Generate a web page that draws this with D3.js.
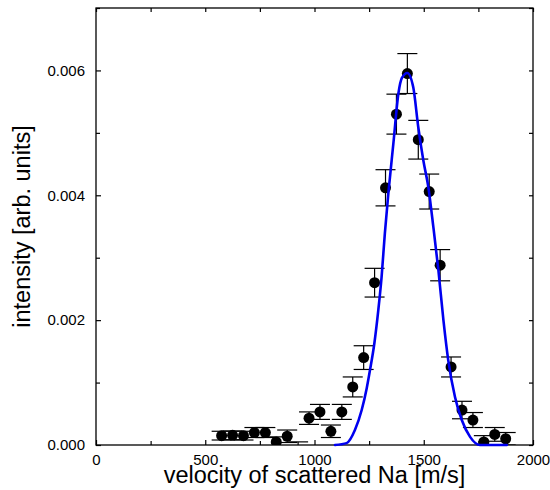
<!DOCTYPE html>
<html>
<head>
<meta charset="utf-8">
<script src="https://cdn.jsdelivr.net/npm/d3@7"></script>
<style>
  html, body { margin: 0; padding: 0; background: #fff; }
  svg { display: block; font-family: "Liberation Sans", Arial, Helvetica, sans-serif; }
</style>
</head>
<body>
<svg id="chart" width="550" height="490"></svg>
<script>
// Measured data: velocity [m/s], intensity [arb. units], error bar half-height
const velocity = [575, 625, 675, 725, 775, 825, 875, 925, 975, 1025, 1075, 1125, 1175, 1225, 1275,
                  1325, 1375, 1425, 1475, 1525, 1575, 1625, 1675, 1725, 1775, 1825, 1875];
const intensity = [0.00015, 0.000155, 0.00015, 0.0002, 0.0002, 0.00005, 0.00014, -0.00012, 0.00043, 0.00053,
                   0.00022, 0.00053, 0.00093, 0.0014, 0.0026, 0.00412, 0.0053, 0.00595, 0.00489, 0.00406,
                   0.00288, 0.00125, 0.00056, 0.0004, 0.00005, 0.00017, 0.0001];
const intensityErr = [0.00007, 0.00007, 0.00007, 0.00008, 0.00008, 0.00008, 0.0001, 0.00017, 0.0001, 0.00012,
                      0.0001, 0.00012, 0.00016, 0.00019, 0.00023, 0.00029, 0.00032, 0.00032, 0.00031, 0.00028,
                      0.00025, 0.00016, 0.00014, 0.00012, 0.0001, 0.00011, 0.0001];

// Fit curve
const fitVelocity = [1094, 1147, 1185, 1216, 1239, 1254, 1274, 1292, 1307, 1322, 1338, 1361, 1384, 1400, 1425,
                     1452, 1475, 1498, 1521, 1544, 1567, 1590, 1612, 1643, 1674, 1712, 1757, 1880];
const fitIntensity = [0, 0.00003, 0.00024, 0.00056, 0.00091, 0.0012, 0.00163, 0.00216, 0.00269, 0.00339, 0.00403,
                      0.00483, 0.00563, 0.00588, 0.00596, 0.00573, 0.00509, 0.00456, 0.00413, 0.00349, 0.0028,
                      0.002, 0.00136, 0.00077, 0.0004, 0.00013, 0, 0];

// Ticks
const xMajorTicks = [0, 500, 1000, 1500, 2000];
const xMinorTicks = [250, 750, 1250, 1750];
const yMajorTicks = [0, 0.002, 0.004, 0.006];
const yMinorTicks = [0.001, 0.003, 0.005, 0.007];

const xTitle = "velocity of scattered Na [m/s]";
const yTitle = "intensity [arb. units]";

const W = 550, H = 490;
const margin = { left: 96, top: 8, right: 17, bottom: 45 };
const iw = W - margin.left - margin.right;
const ih = H - margin.top - margin.bottom;

const svg = d3.select("#chart");
const g = svg.append("g").attr("transform", `translate(${margin.left},${margin.top})`);

const x = d3.scaleLinear().domain([0, 2000]).range([0, iw]);
const y = d3.scaleLinear().domain([0, 0.007]).range([ih, 0]);

svg.append("defs").append("clipPath").attr("id", "plotclip")
  .append("rect").attr("x", 0).attr("y", 0).attr("width", iw).attr("height", ih);

// Axes (ticks pointing inward on all four sides)
function styleAxis(sel) {
  sel.select(".domain").remove();
  sel.selectAll(".tick line").attr("stroke", "#000").attr("stroke-width", 1.2);
  sel.selectAll(".tick text").attr("fill", "#000").style("font-size", "15px")
     .style("font-family", '"Liberation Sans", Arial, Helvetica, sans-serif');
}

g.append("g").attr("transform", `translate(0,${ih})`)
  .call(d3.axisBottom(x).tickValues(xMajorTicks).tickSize(-5).tickPadding(9).tickFormat(d3.format("d")))
  .call(styleAxis);
g.append("g").attr("transform", `translate(0,${ih})`)
  .call(d3.axisBottom(x).tickValues(xMinorTicks).tickSize(-4).tickFormat(""))
  .call(styleAxis);
g.append("g")
  .call(d3.axisTop(x).tickValues(xMajorTicks.concat(xMinorTicks)).tickSize(-4).tickFormat(""))
  .call(styleAxis);
g.append("g")
  .call(d3.axisLeft(y).tickValues(yMajorTicks).tickSize(-5).tickPadding(11).tickFormat(d3.format(".3f")))
  .call(styleAxis);
g.append("g")
  .call(d3.axisLeft(y).tickValues(yMinorTicks).tickSize(-4).tickFormat(""))
  .call(styleAxis);
g.append("g").attr("transform", `translate(${iw},0)`)
  .call(d3.axisRight(y).tickValues(yMajorTicks.concat(yMinorTicks)).tickSize(-4).tickFormat(""))
  .call(styleAxis);

// Frame
g.append("rect").attr("x", 0).attr("y", 0).attr("width", iw).attr("height", ih)
  .attr("fill", "none").attr("stroke", "#000").attr("stroke-width", 1.3);

// Data with error bars
const pts = velocity.map((v, i) => ({ v, I: intensity[i], e: intensityErr[i] }));
const data = g.append("g").attr("clip-path", "url(#plotclip)");
const capHalf = 10;

const eb = data.selectAll("g.eb").data(pts).join("g").attr("class", "eb");
eb.append("line")
  .attr("x1", d => x(d.v)).attr("x2", d => x(d.v))
  .attr("y1", d => y(d.I - d.e)).attr("y2", d => y(d.I + d.e))
  .attr("stroke", "#000").attr("stroke-width", 1.2);
eb.append("line")
  .attr("x1", d => x(d.v) - capHalf).attr("x2", d => x(d.v) + capHalf)
  .attr("y1", d => y(d.I + d.e)).attr("y2", d => y(d.I + d.e))
  .attr("stroke", "#000").attr("stroke-width", 1.2);
eb.append("line")
  .attr("x1", d => x(d.v) - capHalf).attr("x2", d => x(d.v) + capHalf)
  .attr("y1", d => y(d.I - d.e)).attr("y2", d => y(d.I - d.e))
  .attr("stroke", "#000").attr("stroke-width", 1.2);

data.selectAll("circle").data(pts).join("circle")
  .attr("cx", d => x(d.v)).attr("cy", d => y(d.I)).attr("r", 5.5).attr("fill", "#000");

// Fit curve
const fit = fitVelocity.map((v, i) => [v, fitIntensity[i]]);
g.append("path").datum(fit)
  .attr("fill", "none").attr("stroke", "#0000f0").attr("stroke-width", 2.6)
  .attr("stroke-linejoin", "round").attr("stroke-linecap", "round")
  .attr("d", d3.line().x(d => x(d[0])).y(d => y(d[1])).curve(d3.curveMonotoneX));

// Axis titles
svg.append("text")
  .attr("x", margin.left + iw / 2).attr("y", 483)
  .attr("text-anchor", "middle").style("font-size", "23.5px").attr("fill", "#000")
  .text(xTitle);
svg.append("text")
  .attr("transform", `translate(30,${margin.top + ih / 2}) rotate(-90)`)
  .attr("text-anchor", "middle").style("font-size", "23.5px").attr("fill", "#000")
  .text(yTitle);
</script>
</body>
</html>
